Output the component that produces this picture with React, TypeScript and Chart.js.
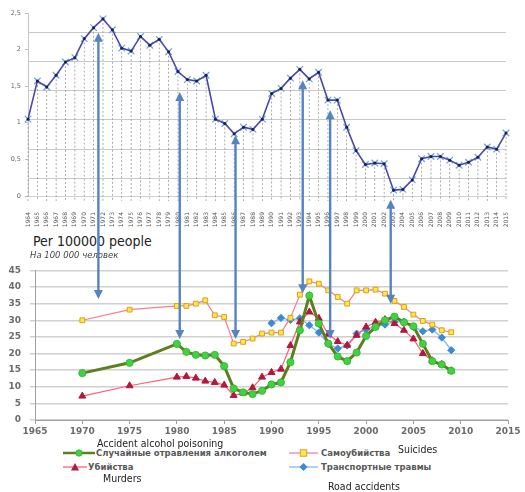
import React, { useEffect, useRef } from "react";
import { Chart, registerables } from "chart.js";
Chart.register(...registerables);

// ---------- DATA ----------
// Top chart (years 1964–2015)
const topYearLabels = [
  "1964", "1965", "1966", "1967", "1968", "1969", "1970", "1971", "1972", "1973",
  "1974", "1975", "1976", "1977", "1978", "1979", "1980", "1981", "1982", "1983",
  "1984", "1985", "1986", "1987", "1988", "1989", "1990", "1991", "1992", "1993",
  "1994", "1995", "1996", "1997", "1998", "1999", "2000", "2001", "2002", "2003",
  "2004", "2005", "2006", "2007", "2008", "2009", "2010", "2011", "2012", "2013",
  "2014", "2015",
];
const topValues = [
  1.05, 1.57, 1.49, 1.65, 1.83, 1.89, 2.15, 2.3, 2.42, 2.27,
  2.02, 1.98, 2.18, 2.06, 2.14, 1.97, 1.7, 1.59, 1.57, 1.65,
  1.05, 0.99, 0.85, 0.94, 0.91, 1.05, 1.4, 1.47, 1.61, 1.73,
  1.6, 1.69, 1.31, 1.31, 0.94, 0.62, 0.43, 0.45, 0.44, 0.08,
  0.09, 0.22, 0.51, 0.54, 0.54, 0.49, 0.42, 0.46, 0.53, 0.67,
  0.64, 0.86,
];
const topGridValues = [0.24, 0.64, 1.04, 1.44, 1.84, 2.24];

// Bottom chart (per 100 000 people)
const seriesYears = [
  1970, 1975, 1980, 1981, 1982, 1983, 1984, 1985, 1986, 1987, 1988, 1989,
  1990, 1991, 1992, 1993, 1994, 1995, 1996, 1997, 1998, 1999,
  2000, 2001, 2002, 2003, 2004, 2005, 2006, 2007, 2008, 2009,
];
const alcohol = [
  14.1, 17.2, 22.9, 20.5, 19.6, 19.4, 19.6, 16.2, 9.5, 8.3, 7.8, 8.8,
  10.7, 11.3, 17.4, 27, 37.4, 29, 23, 19.1, 17.7, 20.3,
  25.3, 28, 30, 31.1, 29.4, 28.2, 22.9, 17.7, 16.7, 14.8,
];
const suicides = [
  30, 33.2, 34.3, 34.3, 35, 36, 31.5, 31, 23, 23.5, 24.5, 26,
  26.3, 26.3, 30.7, 37.7, 41.7, 41, 39, 37, 35, 39,
  39, 39.2, 38, 35.8, 34, 31.7, 29.8, 28.7, 27, 26.4,
];
const murders = [
  7.2, 10.3, 12.9, 13.1, 12.6, 11.7, 11.3, 10.5, 7.4, 8.1, 9.7, 12.9,
  14.3, 15.3, 22.4, 29.5, 32.5, 30.6, 25.8, 23.6, 22.5, 25.5,
  28, 29.4, 30.2, 29, 27, 24.4, 20, 17.8, 16.7, 14.8,
];
const roadYears = [
  1990, 1991, 1992, 1993, 1994, 1995, 1996, 1997, 1998, 1999,
  2000, 2001, 2002, 2003, 2004, 2005, 2006, 2007, 2008, 2009,
];
const roads = [
  29.1, 30.7, 30.1, 30.6, 28.5, 26.3, 22.9, 21.5, 22.4, 26,
  27.2, 28.2, 28.7, 29.5, 29.6, 28, 26.7, 27.2, 24.8, 21,
];

// Connecting arrows: year on bottom axis, value on top axis, value on bottom axis
const arrowYears = [1971.7, 1980.3, 1986.2, 1993.3, 1996.2, 2002.6];
const arrowTopValues = [2.23, 1.42, 0.83, 1.58, 1.17, -0.05];
const arrowBottomValues = [36.4, 24.4, 24.4, 38.1, 24.4, 35];

const seriesLabels = [
  "Случайные отравления алкоголем",
  "Самоубийства",
  "Убийства",
  "Транспортные травмы",
];

// ---------- LAYOUT ----------
const W = 525;
const TOP_H = 232;
const BOT_TOP = 256;
const BOT_H = 184;

const tickFont = { family: "'DejaVu Sans', sans-serif", size: 9, weight: "bold" as const };

const dropLines = {
  id: "dropLines",
  beforeDatasetsDraw(chart: any) {
    const meta = chart.getDatasetMeta(0);
    const { ctx, chartArea } = chart;
    ctx.save();
    ctx.strokeStyle = "#8a8a8a";
    ctx.lineWidth = 0.7;
    ctx.setLineDash([2, 2]);
    meta.data.forEach((p: any) => {
      ctx.beginPath();
      ctx.moveTo(p.x, p.y);
      ctx.lineTo(p.x, chartArea.bottom + 5);
      ctx.stroke();
    });
    ctx.restore();
  },
};

const toPts = (xs: number[], ys: number[]) => xs.map((x, i) => ({ x, y: ys[i] }));

function Marker({ kind, line, fill, stroke, w }: { kind: string; line: string; fill: string; stroke: string; w: number }) {
  const c = w / 2;
  let shape: React.ReactNode = null;
  if (kind === "circle") shape = <circle cx={c} cy={5} r={3.2} fill={fill} stroke={stroke} strokeWidth={0.8} />;
  if (kind === "rect") shape = <rect x={c - 3.2} y={1.8} width={6.4} height={6.4} fill={fill} stroke={stroke} strokeWidth={1} />;
  if (kind === "triangle") shape = <polygon points={`${c},1 ${c + 4},8.5 ${c - 4},8.5`} fill={fill} />;
  if (kind === "diamond") shape = <polygon points={`${c},1 ${c + 4},5 ${c},9 ${c - 4},5`} fill={fill} />;
  return (
    <svg width={w} height={10} style={{ display: "block" }}>
      <line x1={0} y1={5} x2={w} y2={5} stroke={line} strokeWidth={kind === "circle" ? 2.5 : 1.3} />
      {shape}
    </svg>
  );
}

export default function App() {
  const topRef = useRef<HTMLCanvasElement>(null);
  const botRef = useRef<HTMLCanvasElement>(null);
  const ovRef = useRef<HTMLCanvasElement>(null);

  useEffect(() => {
    if (!topRef.current || !botRef.current || !ovRef.current) return;

    const top = new Chart(topRef.current, {
      type: "line",
      data: {
        labels: topYearLabels,
        datasets: [
          {
            data: topValues,
            borderColor: "#4b48a8",
            borderWidth: 1.6,
            pointRadius: 1.5,
            pointBackgroundColor: "#1c1c58",
            pointBorderWidth: 0,
            tension: 0,
          },
          {
            data: topValues,
            showLine: false,
            pointStyle: "crossRot",
            pointRadius: 4.6,
            pointBackgroundColor: "#6aa8e0",
            pointBorderColor: "#6aa8e0",
            pointBorderWidth: 1.3,
          },
        ],
      },
      options: {
        responsive: false,
        animation: false,
        layout: { padding: { top: 13, right: 19, left: 0, bottom: 0 } },
        plugins: { legend: { display: false }, tooltip: { enabled: false } },
        scales: {
          x: {
            grid: { display: false },
            border: { display: true, color: "#d0d0d0" },
            ticks: {
              autoSkip: false,
              minRotation: 90,
              maxRotation: 90,
              font: { family: "'DejaVu Sans', sans-serif", size: 6 },
              color: "#555",
              padding: 8,
            },
            afterFit: (s: any) => {
              s.height = TOP_H - 196;
            },
          },
          y: {
            min: 0,
            max: 2.5,
            ticks: {
              stepSize: 0.5,
              callback: (v: any) => String(v).replace(".", ","),
              font: { family: "'DejaVu Sans', sans-serif", size: 6.5 },
              color: "#666",
              padding: 4,
            },
            grid: { drawOnChartArea: false, drawTicks: true, tickLength: 3, color: "#bbb" },
            border: { display: true, color: "#c8c8c8" },
            afterFit: (s: any) => {
              s.width = 28;
            },
          },
          yg: {
            min: 0,
            max: 2.5,
            position: "left",
            ticks: { display: false },
            grid: { color: "#c9c9c9", drawTicks: false },
            border: { display: false },
            afterBuildTicks: (s: any) => {
              s.ticks = topGridValues.map((v) => ({ value: v }));
            },
            afterFit: (s: any) => {
              s.width = 0;
            },
          },
        },
      } as any,
      plugins: [dropLines],
    });

    const bot = new Chart(botRef.current, {
      type: "line",
      data: {
        datasets: [
          {
            label: seriesLabels[0],
            data: toPts(seriesYears, alcohol),
            borderColor: "#5f7f1f",
            borderWidth: 3,
            pointStyle: "circle",
            pointRadius: 3.6,
            pointBackgroundColor: "#3fd43f",
            pointBorderColor: "#2fb02f",
            pointBorderWidth: 0.8,
          },
          {
            label: seriesLabels[1],
            data: toPts(seriesYears, suicides),
            borderColor: "#f47f86",
            borderWidth: 1.2,
            pointStyle: "rect",
            pointRadius: 3.4,
            pointBackgroundColor: "#ffe84a",
            pointBorderColor: "#d9a21b",
            pointBorderWidth: 1,
          },
          {
            label: seriesLabels[2],
            data: toPts(seriesYears, murders),
            borderColor: "#ff5f74",
            borderWidth: 1.2,
            pointStyle: "triangle",
            pointRadius: 4,
            pointBackgroundColor: "#b2173d",
            pointBorderColor: "#b2173d",
            pointBorderWidth: 1,
          },
          {
            label: seriesLabels[3],
            data: toPts(roadYears, roads),
            borderColor: "#8cb8e6",
            borderWidth: 1.4,
            pointStyle: "rectRot",
            pointRadius: 3.6,
            pointBackgroundColor: "#3a8ad6",
            pointBorderColor: "#3a8ad6",
            pointBorderWidth: 1,
          },
        ],
      },
      options: {
        responsive: false,
        animation: false,
        layout: { padding: { top: 7, right: 17, left: 0, bottom: 0 } },
        plugins: { legend: { display: false }, tooltip: { enabled: false } },
        scales: {
          x: {
            type: "linear",
            min: 1965,
            max: 2015,
            ticks: { stepSize: 5, callback: (v: any) => String(v), font: tickFont, color: "#6b6b6b", padding: 2 },
            grid: { drawOnChartArea: false, tickLength: 4, color: "#a0a0a0" },
            border: { color: "#a0a0a0" },
            afterFit: (s: any) => {
              s.height = 20;
            },
          },
          y: {
            min: 0,
            max: 45,
            ticks: { stepSize: 5, font: tickFont, color: "#6b6b6b", padding: 9 },
            grid: { color: "#d0d0d0", lineWidth: 1.5, tickLength: 5 },
            border: { color: "#a0a0a0" },
            afterFit: (s: any) => {
              s.width = 35;
            },
          },
        },
      } as any,
    });

    // Arrows overlay
    const ov = ovRef.current;
    const dpr = window.devicePixelRatio || 1;
    ov.width = W * dpr;
    ov.height = 492 * dpr;
    ov.style.width = W + "px";
    ov.style.height = "492px";
    const ctx = ov.getContext("2d")!;
    ctx.setTransform(dpr, 0, 0, dpr, 0, 0);
    ctx.clearRect(0, 0, W, 492);
    const color = "#5683c2";
    arrowYears.forEach((yr, i) => {
      const x = bot.scales.x.getPixelForValue(yr);
      const y1 = top.scales.y.getPixelForValue(arrowTopValues[i]);
      const y2 = BOT_TOP + bot.scales.y.getPixelForValue(arrowBottomValues[i]);
      const head = 9;
      const hw = 4.5;
      ctx.strokeStyle = color;
      ctx.fillStyle = color;
      ctx.lineWidth = 2.4;
      ctx.beginPath();
      ctx.moveTo(x, y1 + head - 1);
      ctx.lineTo(x, y2 - head + 1);
      ctx.stroke();
      ctx.beginPath();
      ctx.moveTo(x, y1);
      ctx.lineTo(x + hw, y1 + head);
      ctx.lineTo(x - hw, y1 + head);
      ctx.closePath();
      ctx.fill();
      ctx.beginPath();
      ctx.moveTo(x, y2);
      ctx.lineTo(x + hw, y2 - head);
      ctx.lineTo(x - hw, y2 - head);
      ctx.closePath();
      ctx.fill();
    });

    return () => {
      top.destroy();
      bot.destroy();
    };
  }, []);

  const narrow = "'Liberation Sans Narrow', 'DejaVu Sans Condensed', sans-serif";
  const legendFont: React.CSSProperties = {
    position: "absolute",
    fontFamily: "'DejaVu Sans', sans-serif",
    fontWeight: "bold",
    fontSize: 8.5,
    color: "#585858",
    lineHeight: "10px",
    whiteSpace: "nowrap",
  };
  const note = (text: string, left: number, cy: number, size: number): React.ReactNode => (
    <div
      style={{
        position: "absolute",
        left,
        top: cy - size / 2 - 1,
        fontFamily: narrow,
        fontSize: size,
        lineHeight: size + 2 + "px",
        color: "#222",
        whiteSpace: "nowrap",
      }}
    >
      {text}
    </div>
  );

  return (
    <div style={{ position: "absolute", left: 0, top: 0, width: W, height: 492, background: "#fff", overflow: "hidden" }}>
      <canvas ref={topRef} width={W} height={TOP_H} style={{ position: "absolute", left: 0, top: 0 }} />
      <canvas ref={botRef} width={W} height={BOT_H} style={{ position: "absolute", left: 0, top: BOT_TOP }} />

      {note("Per 100000 people", 33, 241, 14)}
      <div
        style={{
          position: "absolute",
          left: 30,
          top: 250,
          fontFamily: "'DejaVu Sans', sans-serif",
          fontStyle: "italic",
          fontSize: 8.5,
          lineHeight: "10px",
          color: "#444",
          whiteSpace: "nowrap",
        }}
      >
        На 100 000 человек
      </div>

      {/* Legend */}
      <div style={{ position: "absolute", left: 63, top: 448 }}>
        <Marker kind="circle" line="#5f7f1f" fill="#3fd43f" stroke="#2fb02f" w={32} />
      </div>
      <div style={{ ...legendFont, left: 96, top: 448 }}>{seriesLabels[0]}</div>
      <div style={{ position: "absolute", left: 289, top: 448 }}>
        <Marker kind="rect" line="#e77fd0" fill="#ffe84a" stroke="#d9a21b" w={29} />
      </div>
      <div style={{ ...legendFont, left: 321, top: 448 }}>{seriesLabels[1]}</div>
      <div style={{ position: "absolute", left: 63, top: 462 }}>
        <Marker kind="triangle" line="#ff5f74" fill="#b2173d" stroke="#b2173d" w={24} />
      </div>
      <div style={{ ...legendFont, left: 88, top: 462 }}>{seriesLabels[2]}</div>
      <div style={{ position: "absolute", left: 289, top: 462 }}>
        <Marker kind="diamond" line="#8cb8e6" fill="#3a8ad6" stroke="#3a8ad6" w={29} />
      </div>
      <div style={{ ...legendFont, left: 321, top: 462 }}>{seriesLabels[3]}</div>

      {note("Accident alcohol poisoning", 97, 443, 10.5)}
      {note("Suicides", 398, 449, 10.5)}
      {note("Murders", 103, 478, 10.5)}
      {note("Road accidents", 328, 486, 10.5)}

      <canvas ref={ovRef} style={{ position: "absolute", left: 0, top: 0, pointerEvents: "none" }} />
    </div>
  );
}
